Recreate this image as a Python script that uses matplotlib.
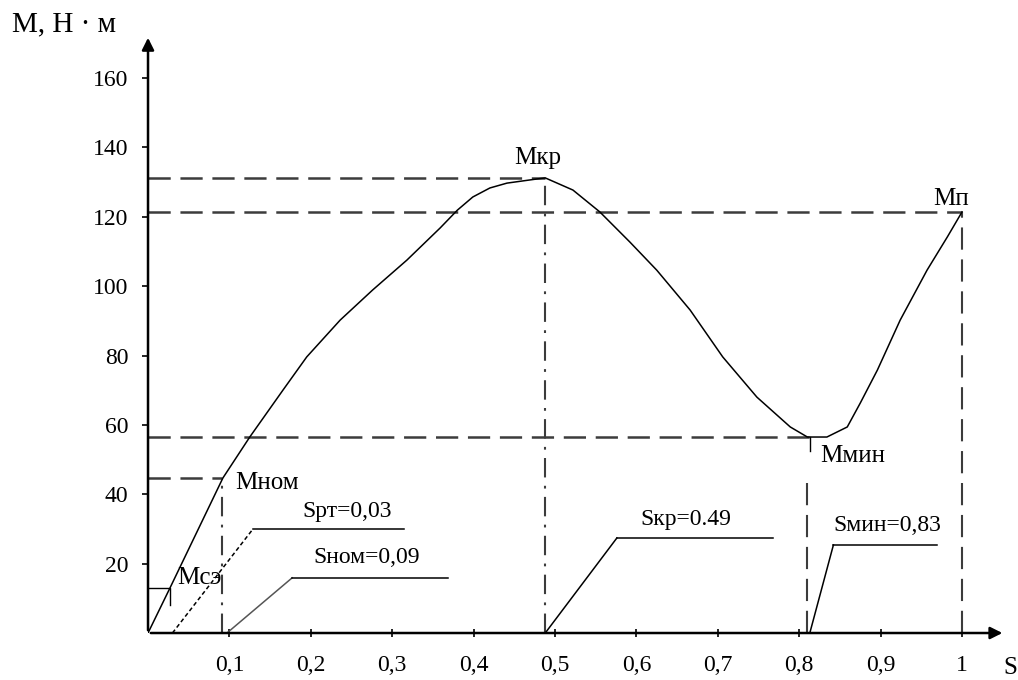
import matplotlib
matplotlib.use("Agg")
import matplotlib.pyplot as plt

plt.rcParams["font.family"] = ["Liberation Serif", "DejaVu Serif"]
plt.rcParams["lines.scale_dashes"] = False

# torque-slip curve
S_CURVE = [0.0, 0.027, 0.092, 0.125, 0.166, 0.195, 0.236, 0.276, 0.318, 0.359,
           0.380, 0.399, 0.420, 0.441, 0.478, 0.488, 0.522, 0.555, 0.592, 0.625,
           0.666, 0.706, 0.748, 0.789, 0.810, 0.834, 0.859, 0.875, 0.896,
           0.924, 0.957, 0.982, 1.0]
M_CURVE = [0.0, 13.0, 44.7, 56.5, 70.1, 79.6, 90.2, 98.9, 107.5, 116.8,
           121.9, 125.7, 128.3, 129.7, 130.9, 131.2, 127.7, 121.4, 112.7, 104.6,
           93.1, 79.6, 68.0, 59.4, 56.5, 56.5, 59.4, 66.3, 75.8,
           90.2, 104.6, 114.2, 121.4]

# characteristic points (slip, torque)
S_CE, M_CE = 0.027, 13.0
S_NOM, M_NOM = 0.091, 44.7
S_CR, M_CR = 0.488, 131.2
S_MIN, M_MIN = 0.81, 56.5
S_P, M_P = 1.0, 121.4
S_RT = 0.03

X_TICKS = [0.1, 0.2, 0.3, 0.4, 0.5, 0.6, 0.7, 0.8, 0.9, 1.0]
X_LABELS = ["0,1", "0,2", "0,3", "0,4", "0,5", "0,6", "0,7", "0,8", "0,9", "1"]
Y_TICKS = [20, 40, 60, 80, 100, 120, 140, 160]
Y_LABELS = ["20", "40", "60", "80", "100", "120", "140", "160"]

DASH = (0, (16, 7))
DASHDOT = (0, (14, 6, 2, 6))
GREY = "#3c3c3c"

fig = plt.figure(figsize=(10.18, 6.8), dpi=100)
ax = fig.add_axes([0.1454, 0.0691, 0.8476, 0.8927])
ax.set_xlim(0, 1.06)
ax.set_ylim(0, 175)
for sp in ax.spines.values():
    sp.set_visible(False)

# axes with arrows
ax.annotate("", xy=(1.053, 0), xytext=(0, 0),
            arrowprops=dict(arrowstyle="-|>", lw=1.8, color="black", mutation_scale=18),
            annotation_clip=False)
ax.annotate("", xy=(0, 172.4), xytext=(0, 0),
            arrowprops=dict(arrowstyle="-|>", lw=1.8, color="black", mutation_scale=18),
            annotation_clip=False)

ax.set_xticks(X_TICKS, X_LABELS)
ax.set_yticks(Y_TICKS, Y_LABELS)
ax.tick_params(axis="x", direction="inout", length=6, width=1.2, pad=13, labelsize=17)
ax.tick_params(axis="y", direction="out", length=4, width=1.2, pad=10, labelsize=17)

# guide lines
ax.plot([0, S_CR], [M_CR, M_CR], color=GREY, lw=1.8, linestyle=DASH)
ax.plot([S_CR, S_CR], [0, M_CR], color=GREY, lw=1.5, linestyle=DASHDOT)
ax.plot([0, S_P], [M_P, M_P], color=GREY, lw=1.8, linestyle=DASH)
ax.plot([S_P, S_P], [0, M_P], color=GREY, lw=1.5, linestyle=DASH)
ax.plot([0, S_MIN + 0.01], [M_MIN, M_MIN], color=GREY, lw=1.8, linestyle=DASH)
ax.plot([S_MIN, S_MIN], [0, M_MIN - 12], color=GREY, lw=1.5, linestyle=DASH)
ax.plot([S_MIN + 0.003, S_MIN + 0.003], [M_MIN, M_MIN - 4], color="black", lw=1)
ax.plot([0, S_NOM], [M_NOM, M_NOM], color=GREY, lw=1.8, linestyle=DASH)
ax.plot([S_NOM, S_NOM], [0, M_NOM], color=GREY, lw=1.5, linestyle=DASHDOT)
ax.plot([0, S_CE, S_CE], [M_CE, M_CE, M_CE - 5], color="black", lw=1)

# main curve
ax.plot(S_CURVE, M_CURVE, color="black", lw=1.1)

# leader lines for slip values
def leader(s0, dx, h, length, ls="-", color="black"):
    ax.plot([s0, s0 + dx], [0, h], color=color, lw=1.1, linestyle=ls)
    ax.plot([s0 + dx, s0 + dx + length], [h, h], color="black", lw=1.1)

leader(S_RT, 0.099, 30.0, 0.185, ls=(0, (3, 2)))
leader(S_NOM + 0.006, 0.08, 15.9, 0.192, color="#555555")
leader(S_CR, 0.088, 27.4, 0.192)
leader(S_MIN + 0.003, 0.029, 25.4, 0.127)

fs = 17
ax.text(0.245, 34.9, "Sрт=0,03", fontsize=fs, ha="center", va="center")
ax.text(0.269, 21.9, "Sном=0,09", fontsize=fs, ha="center", va="center")
ax.text(0.661, 32.6, "Sкр=0.49", fontsize=fs, ha="center", va="center")
ax.text(0.908, 31.1, "Sмин=0,83", fontsize=fs, ha="center", va="center")
fp = 18
ax.text(S_CR - 0.009, M_CR + 5.7, "Мкр", fontsize=fp, ha="center", va="center")
ax.text(S_P - 0.014, M_P + 3.7, "Мп", fontsize=fp, ha="center", va="center")
ax.text(S_MIN + 0.056, M_MIN - 5.5, "Ммин", fontsize=fp, ha="center", va="center")
ax.text(S_NOM + 0.055, M_NOM - 1.5, "Мном", fontsize=fp, ha="center", va="center")
ax.text(S_CE + 0.036, M_CE + 2.9, "Мсэ", fontsize=fp, ha="center", va="center")

fig.text(12 / 1018, 1 - 24 / 680, "М, Н · м", fontsize=21, ha="left", va="center")
fig.text(1010 / 1018, 1 - 668 / 680, "S", fontsize=18, ha="center", va="center")

fig.savefig("out.png", dpi=100)
